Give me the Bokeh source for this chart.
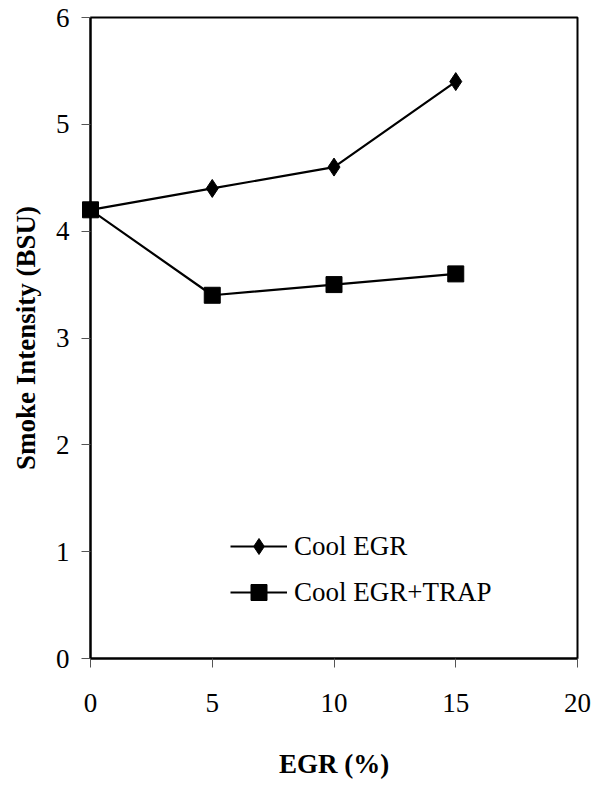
from bokeh.plotting import figure
from bokeh.models import Range1d, FixedTicker, Legend, LegendItem
from bokeh.embed import file_html
from bokeh.resources import INLINE

egr = [0, 5, 10, 15]
cool_egr = [4.2, 4.4, 4.6, 5.4]
cool_egr_trap = [4.2, 3.4, 3.5, 3.6]
x_ticks = [0, 5, 10, 15, 20]
y_ticks = [0, 1, 2, 3, 4, 5, 6]

FONT = "Liberation Serif"
FS = "27px"

p = figure(width=598, height=781, output_backend="svg", toolbar_location=None,
           x_range=Range1d(0, 20), y_range=Range1d(0, 6),
           min_border_left=90, min_border_right=21, min_border_top=17, min_border_bottom=121)
p.grid.visible = False
p.outline_line_color = "black"
p.outline_line_width = 2
p.background_fill_color = "white"
p.border_fill_color = "white"

p.xaxis.ticker = FixedTicker(ticks=x_ticks)
p.yaxis.ticker = FixedTicker(ticks=y_ticks)
for ax in (p.xaxis[0], p.yaxis[0]):
    ax.axis_line_color = "black"
    ax.axis_line_width = 2
    ax.major_tick_line_color = "#555555"
    ax.major_tick_line_width = 1
    ax.major_tick_in = 0
    ax.major_tick_out = 9
    ax.minor_tick_line_color = None
    ax.major_label_text_font = FONT
    ax.major_label_text_font_size = FS
    ax.major_label_text_color = "black"
    ax.axis_label_text_font = FONT
    ax.axis_label_text_font_size = FS
    ax.axis_label_text_font_style = "bold"
    ax.axis_label_text_color = "black"

p.xaxis.axis_label = "EGR (%)"
p.yaxis.axis_label = "Smoke Intensity (BSU)"
p.xaxis.major_label_standoff = 26
p.xaxis.axis_label_standoff = 34
p.yaxis.major_label_standoff = 12
p.yaxis.axis_label_standoff = 12

l1 = p.line(egr, cool_egr, line_color="black", line_width=2.2)
m1 = p.scatter(egr, cool_egr, marker="diamond", size=18,
               fill_color="black", line_color="black", level="overlay")
l2 = p.line(egr, cool_egr_trap, line_color="black", line_width=2.2)
m2 = p.scatter(egr, cool_egr_trap, marker="square", size=16,
               fill_color="black", line_color="black", level="overlay")

legend = Legend(items=[LegendItem(label="Cool EGR", renderers=[l1, m1]),
                       LegendItem(label="Cool EGR+TRAP", renderers=[l2, m2])],
                location=(140, 46), padding=0, margin=0, spacing=6,
                glyph_width=57, glyph_height=40, label_height=40, label_standoff=7,
                label_text_font=FONT, label_text_font_size=FS, label_text_color="black",
                border_line_alpha=0, background_fill_alpha=0)
p.add_layout(legend)

open("out.html", "w").write(file_html(p, INLINE))
